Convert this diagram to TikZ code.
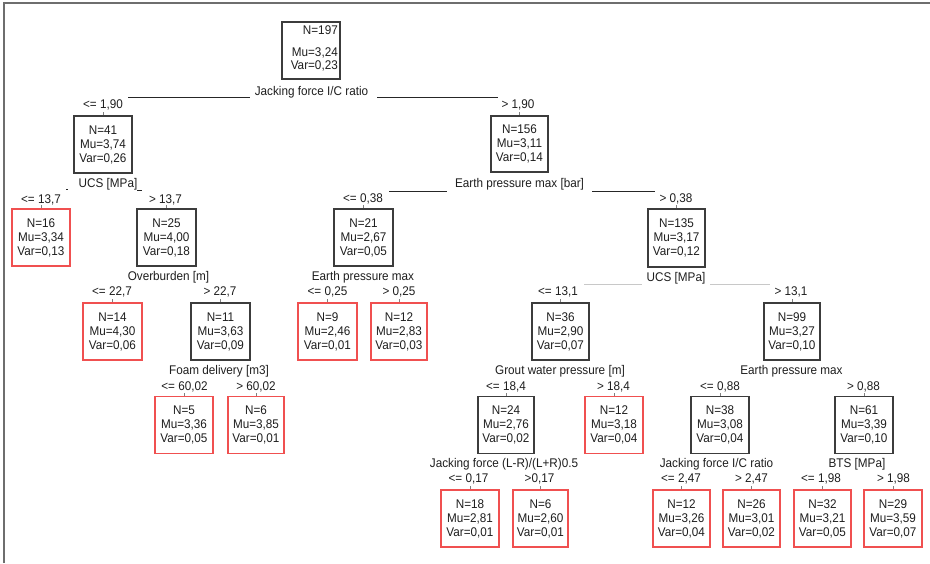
\documentclass[tikz,border=0pt]{standalone}
\usepackage{fontspec}
\setmainfont[FakeStretch=0.93]{Liberation Sans}
\definecolor{boxgray}{RGB}{60,60,60}
\definecolor{leafred}{RGB}{240,80,80}
\definecolor{lightline}{RGB}{200,200,200}
\definecolor{framegray}{RGB}{110,110,110}
\definecolor{txt}{RGB}{30,30,30}
\begin{document}
\begin{tikzpicture}[x=1pt,y=-1pt,
  every node/.style={font=\fontsize{12.6}{14}\selectfont, text=txt, inner sep=0pt},
  splitbox/.style={draw=boxgray, line width=1.1pt, minimum width=58pt, minimum height=57pt, align=center},
  leafbox/.style={splitbox, draw=leafred},
  varlab/.style={anchor=center},
  condlab/.style={anchor=center},
  splitline/.style={draw=black!85, line width=0.9pt},
  faintline/.style={draw=lightline, line width=0.9pt},
  boxtick/.style={draw=gray, line width=0.6pt}
]
\useasboundingbox (0,0) rectangle (930,563);
% frame
\draw[framegray, line width=1.5pt] (4,563) -- (4,3) -- (930,3);

% ---- root
\node[splitbox] (root) at (311,50.5) {};
\node[anchor=east, align=right] (roottxt) at (338,48.7) {N=197\\[8pt]Mu=3,24\\[-1pt]Var=0,23};
\node[varlab] (v0) at (311.5,92) {Jacking force I/C ratio};
\coordinate (v0l) at (128,97);
\coordinate (v0la) at (250,97);
\coordinate (v0ra) at (377,97);
\coordinate (v0r) at (498,97);
\draw[splitline] (v0l) -- (v0la);
\draw[splitline] (v0ra) -- (v0r);
\node[condlab] (c0a) at (103,105) {<= 1,90};
\node[condlab] (c0b) at (518,105) {> 1,90};

% ---- level 1
\node[splitbox] (n41) at (103,144.5) {N=41\\Mu=3,74\\Var=0,26};
\node[splitbox, minimum width=57pt, minimum height=56pt] (n156) at (519.5,144) {N=156\\Mu=3,11\\Var=0,14};

\node[varlab] (v1) at (108,184) {UCS [MPa]};
\coordinate (v1l) at (66,189);
\coordinate (v1r) at (137,190);
\draw[splitline] (v1l) -- ++(2,0);
\draw[splitline] (v1r) -- ++(5,0);
\node[condlab] (c1a) at (41,200) {<= 13,7};
\node[condlab] (c1b) at (165.5,200) {> 13,7};

\node[varlab] (v2) at (519.5,184) {Earth pressure max [bar]};
\coordinate (v2l) at (389,191);
\coordinate (v2la) at (447,191);
\coordinate (v2ra) at (592,191);
\coordinate (v2r) at (655,191);
\draw[splitline] (v2l) -- (v2la);
\draw[splitline] (v2ra) -- (v2r);
\node[condlab] (c2a) at (363,199) {<= 0,38};
\node[condlab] (c2b) at (676,199) {> 0,38};

% ---- level 2
\node[leafbox] (n16) at (41,237.5) {N=16\\Mu=3,34\\Var=0,13};
\node[splitbox, minimum width=59pt] (n25) at (166.5,237.5) {N=25\\Mu=4,00\\Var=0,18};
\node[splitbox, minimum width=59pt] (n21) at (363.5,237.5) {N=21\\Mu=2,67\\Var=0,05};
\node[splitbox, minimum width=57pt, minimum height=58pt] (n135) at (676.5,238) {N=135\\Mu=3,17\\Var=0,12};

\node[varlab] (v3) at (168.5,277) {Overburden [m]};
\node[condlab] (c3a) at (112,292) {<= 22,7};
\node[condlab] (c3b) at (220,292) {> 22,7};

\node[varlab] (v4) at (363,277) {Earth pressure max};
\node[condlab] (c4a) at (327.5,292) {<= 0,25};
\node[condlab] (c4b) at (399,292) {> 0,25};

\node[varlab] (v5) at (676,278) {UCS [MPa]};
\coordinate (v5l) at (584,284);
\coordinate (v5la) at (642,284);
\coordinate (v5ra) at (710,284);
\coordinate (v5r) at (770,284);
\draw[faintline] (v5l) -- (v5la);
\draw[faintline] (v5ra) -- (v5r);
\node[condlab] (c5a) at (558,292) {<= 13,1};
\node[condlab] (c5b) at (791,292) {> 13,1};

% ---- level 3
\node[leafbox, minimum width=59pt] (n14) at (112.5,331.5) {N=14\\Mu=4,30\\Var=0,06};
\node[splitbox, minimum width=59pt] (n11) at (220.5,331.5) {N=11\\Mu=3,63\\Var=0,09};
\node[leafbox, minimum width=59pt] (n9) at (327.5,331.5) {N=9\\Mu=2,46\\Var=0,01};
\node[leafbox, minimum width=56pt] (n12a) at (399,331.5) {N=12\\Mu=2,83\\Var=0,03};
\node[splitbox, minimum width=57pt] (n36) at (560.5,331.5) {N=36\\Mu=2,90\\Var=0,07};
\node[splitbox, minimum width=56pt] (n99) at (792,331.5) {N=99\\Mu=3,27\\Var=0,10};

\node[varlab] (v6) at (219,371) {Foam delivery [m3]};
\node[condlab] (c6a) at (184.5,387) {<= 60,02};
\node[condlab] (c6b) at (256,387) {> 60,02};

\node[varlab] (v7) at (560,371) {Grout water pressure [m]};
\node[condlab] (c7a) at (506,387) {<= 18,4};
\node[condlab] (c7b) at (613.5,387) {> 18,4};

\node[varlab] (v8) at (791.5,371) {Earth pressure max};
\node[condlab] (c8a) at (720,387) {<= 0,88};
\node[condlab] (c8b) at (863.5,387) {> 0,88};

% ---- level 4
\node[leafbox] (n5) at (184,425) {N=5\\Mu=3,36\\Var=0,05};
\node[leafbox, minimum width=56pt] (n6a) at (256,425) {N=6\\Mu=3,85\\Var=0,01};
\node[splitbox, minimum width=56pt] (n24) at (506,425) {N=24\\Mu=2,76\\Var=0,02};
\node[leafbox] (n12b) at (614,425) {N=12\\Mu=3,18\\Var=0,04};
\node[splitbox] (n38) at (720,425) {N=38\\Mu=3,08\\Var=0,04};
\node[splitbox] (n61) at (864,425) {N=61\\Mu=3,39\\Var=0,10};

\node[varlab] (v9) at (504,464) {Jacking force (L-R)/(L+R)0.5};
\node[condlab] (c9a) at (468.5,479) {<= 0,17};
\node[condlab] (c9b) at (539.5,479) {>0,17};

\node[varlab] (v10) at (716.5,464) {Jacking force I/C ratio};
\node[condlab] (c10a) at (681,479) {<= 2,47};
\node[condlab] (c10b) at (751.5,479) {> 2,47};

\node[varlab] (v11) at (857,464) {BTS [MPa]};
\node[condlab] (c11a) at (821,479) {<= 1,98};
\node[condlab] (c11b) at (893.5,479) {> 1,98};

% ---- level 5
\node[leafbox] (n18) at (470,518.5) {N=18\\Mu=2,81\\Var=0,01};
\node[leafbox, minimum width=55pt] (n6b) at (540.5,518.5) {N=6\\Mu=2,60\\Var=0,01};
\node[leafbox, minimum width=57pt] (n12c) at (681.5,518.5) {N=12\\Mu=3,26\\Var=0,04};
\node[leafbox, minimum width=57pt] (n26) at (751.5,518.5) {N=26\\Mu=3,01\\Var=0,02};
\node[leafbox, minimum width=57pt] (n32) at (822.5,518.5) {N=32\\Mu=3,21\\Var=0,05};
\node[leafbox] (n29) at (893,518.5) {N=29\\Mu=3,59\\Var=0,07};

% small ticks above boxes
\foreach \b in {n41,n156,n16,n25,n21,n135,n14,n11,n9,n12a,n36,n99,n5,n6a,n24,n12b,n38,n61,n18,n6b,n12c,n26,n32,n29}
  \draw[boxtick] (\b.north) -- ++(0,-3);
\end{tikzpicture}
\end{document}
